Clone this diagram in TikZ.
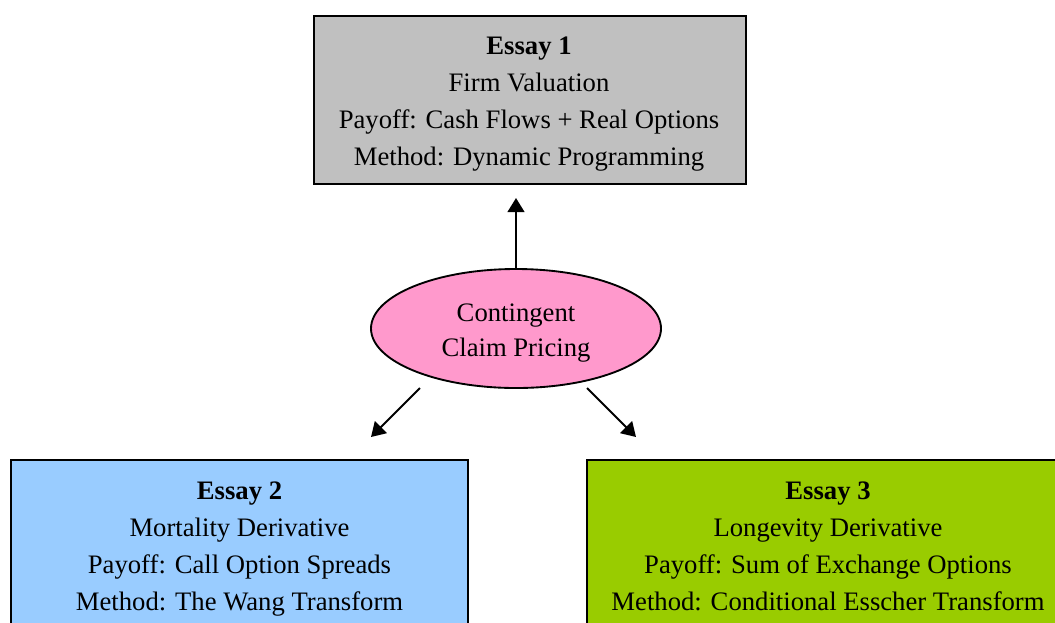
\documentclass[tikz,border=0pt]{standalone}
\usepackage{fontspec}
\setmainfont{Liberation Serif}
\usetikzlibrary{shapes.geometric,arrows.meta}
\definecolor{boxgray}{HTML}{C0C0C0}
\definecolor{boxblue}{HTML}{99CCFF}
\definecolor{boxgreen}{HTML}{99CC00}
\definecolor{ellpink}{HTML}{FF99CC}
\tikzset{
  x=0.75pt, y=-0.75pt,
  essaybox/.style={draw=black, line width=1.4pt, inner sep=0pt, minimum height=126pt},
  txt/.style={align=center, inner sep=0pt, font=\fontsize{20}{27.75}\selectfont},
  arr/.style={line width=1.5pt, -{Triangle[width=12.5pt,length=10.5pt]}}
}
\begin{document}
\begin{tikzpicture}
\useasboundingbox (0,0) rectangle (1055,622);
\clip (0,0) rectangle (1055,622);
\fill[white] (0,0) rectangle (1055,622);
% boxes
\node[essaybox, fill=boxgray, minimum width=324pt] (e1) at (530,100) {};
\node[essaybox, fill=boxblue, minimum width=342.75pt] (e2) at (239.5,544) {};
\node[essaybox, fill=boxgreen, minimum width=361.5pt] (e3) at (828,544) {};
\node[draw=black, line width=1.4pt, fill=ellpink, ellipse, inner sep=0pt,
      minimum width=217.5pt, minimum height=89.25pt] (cp) at (516,328.5) {};
% texts
\node[txt] (t1) at (529,104) {\textbf{Essay 1}\\Firm Valuation\\Payoff: Cash Flows + Real Options\\Method: Dynamic Programming};
\node[txt] (t2) at (239.5,549.5) {\textbf{Essay 2}\\Mortality Derivative\\Payoff: Call Option Spreads\\Method: The Wang Transform};
\node[txt] (t3) at (828,546.7) {\textbf{Essay 3}\\Longevity Derivative\\Payoff: Sum of Exchange Options\\Method: Conditional Esscher Transform};
\node[txt, font=\fontsize{20}{26.25}\selectfont] (tc) at (516,333.5) {Contingent\\Claim Pricing};
% arrows
\coordinate (a1) at (516,198);
\coordinate (l0) at (420,388);
\coordinate (l1) at (371,437);
\coordinate (r0) at (587,388);
\coordinate (r1) at (636,437);
\draw[arr] (cp.north) -- (a1);
\draw[arr] (l0) -- (l1);
\draw[arr] (r0) -- (r1);
\end{tikzpicture}
\end{document}
